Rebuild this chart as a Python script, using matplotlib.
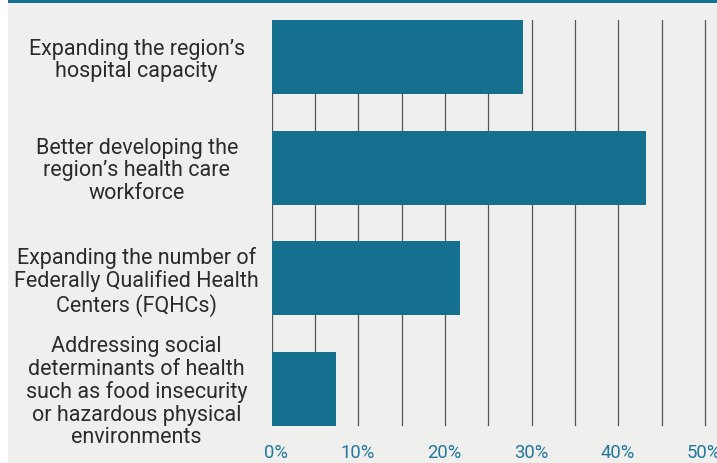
import matplotlib
matplotlib.use("Agg")
import matplotlib.pyplot as plt
import matplotlib.transforms as mtransforms
from matplotlib.patches import Rectangle

# Survey priorities (share of respondents, %)
categories = [
    "Expanding the region\u2019s\nhospital capacity",
    "Better developing the\nregion\u2019s health care\nworkforce",
    "Expanding the number of\nFederally Qualified Health\nCenters (FQHCs)",
    "Addressing social\ndeterminants of health\nsuch as food insecurity\nor hazardous physical\nenvironments",
]
values = [29.0, 43.2, 21.7, 7.4]
tick_values = [0, 10, 20, 30, 40, 50]
tick_labels = ["0%", "10%", "20%", "30%", "40%", "50%"]

TEAL = "#156f8f"
TICK_TEAL = "#23789c"
PANEL = "#efefed"
GRID = "#555555"
TEXT = "#2b2b2b"

plt.rcParams["font.family"] = ["Roboto", "DejaVu Sans"]

W, H, DPI = 717, 463, 100
fig = plt.figure(figsize=(W / DPI, H / DPI), dpi=DPI, facecolor="white")

# Light panel and teal rule across the top, kept behind the axes
fig.patches.append(Rectangle((8 / W, 0), 1 - 8 / W, 1, transform=fig.transFigure,
                             facecolor=PANEL, edgecolor="none", zorder=-10))
fig.patches.append(Rectangle((8 / W, 1 - 2.5 / H), 1 - 8 / W, 2.5 / H, transform=fig.transFigure,
                             facecolor=TEAL, edgecolor="none", zorder=-9))

left_px, right_px = 271.7, 717
top_px, bottom_px = 20, 426
ax = fig.add_axes([left_px / W, (H - bottom_px) / H,
                   (right_px - left_px) / W, (bottom_px - top_px) / H])
ax.set_facecolor("none")

px_per_pct = 43.33 / 5
ax.set_xlim(0, (right_px - left_px) / px_per_pct)

bar_h = 0.67
ypos = list(range(len(categories)))
ax.barh(ypos, values, height=bar_h, color=TEAL, zorder=3)
ax.set_ylim(len(categories) - 1 + bar_h / 2, -bar_h / 2)

ax.set_xticks(tick_values)
ax.set_xticklabels(tick_labels)
ax.set_xticks(list(range(5, 55, 10)), minor=True)
ax.grid(axis="x", which="both", color=GRID, linewidth=0.9)
ax.set_axisbelow(True)
for s in ax.spines.values():
    s.set_visible(False)

ax.tick_params(axis="x", which="both", length=0, pad=13, labelsize=13.3, labelcolor=TICK_TEAL)
offset = mtransforms.ScaledTranslation(16.3 / DPI, 0, fig.dpi_scale_trans)
for lbl in ax.get_xticklabels():
    lbl.set_horizontalalignment("right")
    lbl.set_transform(lbl.get_transform() + offset)

ax.set_yticks(ypos)
ax.set_yticklabels(categories)
ax.tick_params(axis="y", length=0, pad=135 * 72 / DPI, labelsize=15.5, labelcolor=TEXT)
for lbl in ax.get_yticklabels():
    lbl.set_horizontalalignment("center")
    lbl.set_linespacing(1.1)

fig.savefig("out.png", dpi=DPI, facecolor="white")
